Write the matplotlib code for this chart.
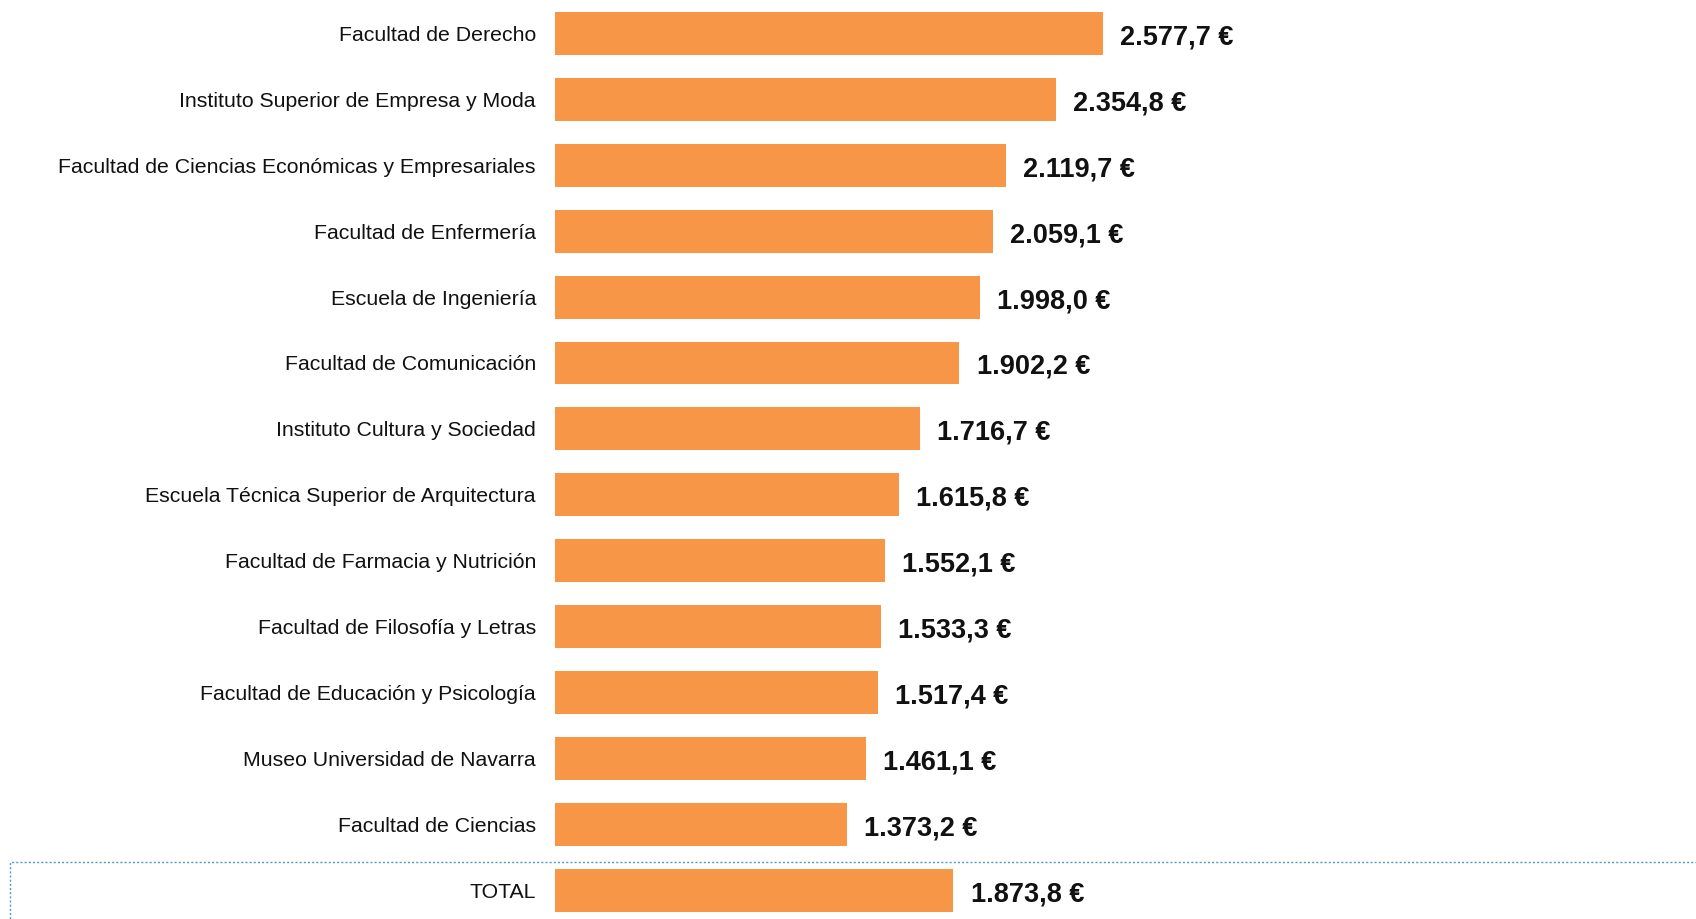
import matplotlib
matplotlib.use("Agg")
import matplotlib.pyplot as plt
from matplotlib.patches import Rectangle

# --- data ---
categories = [
    "Facultad de Derecho",
    "Instituto Superior de Empresa y Moda",
    "Facultad de Ciencias Económicas y Empresariales",
    "Facultad de Enfermería",
    "Escuela de Ingeniería",
    "Facultad de Comunicación",
    "Instituto Cultura y Sociedad",
    "Escuela Técnica Superior de Arquitectura",
    "Facultad de Farmacia y Nutrición",
    "Facultad de Filosofía y Letras",
    "Facultad de Educación y Psicología",
    "Museo Universidad de Navarra",
    "Facultad de Ciencias",
    "TOTAL",
]
values = [2577.7, 2354.8, 2119.7, 2059.1, 1998.0, 1902.2, 1716.7,
          1615.8, 1552.1, 1533.3, 1517.4, 1461.1, 1373.2, 1873.8]

BAR_COLOR = "#F79646"
BOX_COLOR = "#4A9FB8"


def fmt_eur(v):
    # spanish style: thousands with ".", decimals with ","
    s = f"{v:,.1f}"
    s = s.replace(",", "X").replace(".", ",").replace("X", ".")
    return f"{s} €"


plt.rcParams["font.family"] = ["Liberation Sans", "DejaVu Sans"]

W, H = 1696, 919
fig = plt.figure(figsize=(W / 100, H / 100), dpi=100)
ax = fig.add_axes([555 / W, 0, 1 - 555 / W, 1])

ypos = list(range(len(categories)))
ax.barh(ypos, values, height=0.65, color=BAR_COLOR, edgecolor="none")

ax.set_xlim(0, 1141 / 0.2126)
ax.set_ylim(13.437, -0.508)

ax.set_yticks(ypos)
ax.set_yticklabels(categories, fontsize=15.3, color="#111111")
ax.tick_params(axis="y", length=0, pad=13.7)
ax.set_xticks([])
for sp in ax.spines.values():
    sp.set_visible(False)

for y, v in zip(ypos, values):
    ax.annotate(fmt_eur(v), xy=(v, y), xytext=(12.5, -0.7),
                textcoords="offset points", va="center_baseline", ha="left",
                fontsize=19.5, fontweight="bold", color="#111111")

# dotted frame around the TOTAL row
fig.add_artist(Rectangle((10 / W, -0.05), 1.2, (H - 862) / H + 0.05,
                         transform=fig.transFigure, fill=False,
                         edgecolor=BOX_COLOR, linestyle=(0, (1.5, 1.5)),
                         linewidth=1.0, clip_on=False))

fig.savefig("out.png", dpi=100)
